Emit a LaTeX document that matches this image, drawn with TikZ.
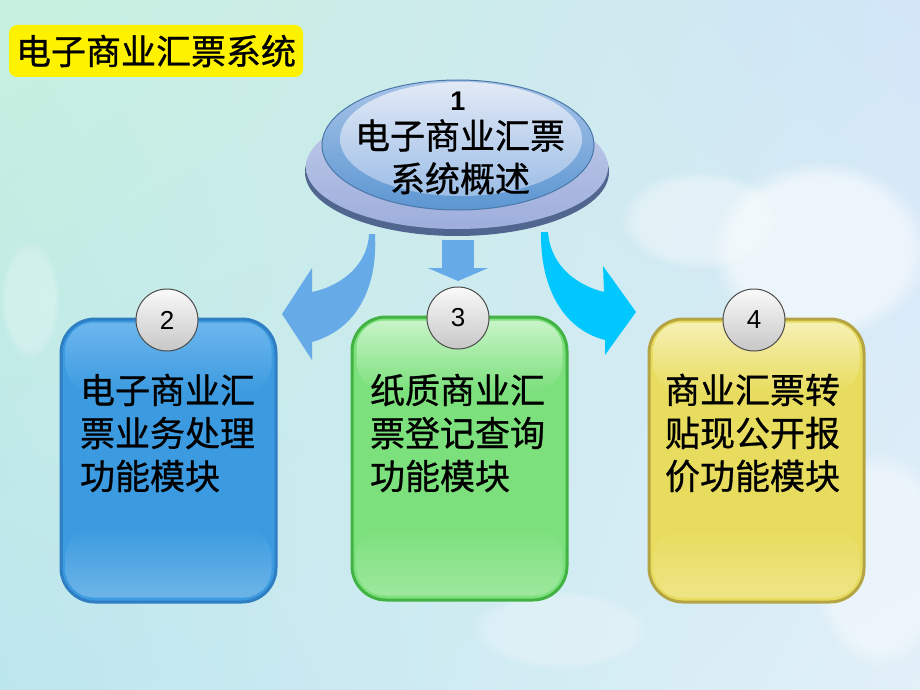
\documentclass[tikz,border=0pt]{standalone}
\usepackage{fontspec}
\setmainfont{Liberation Sans}
\newfontfamily\cjk{Noto Sans CJK SC}[FakeBold=0.8]
\usetikzlibrary{shapes.geometric,arrows.meta,fadings,shadings,calc}
\definecolor{bgA}{HTML}{C6F0DE}
\definecolor{bgB}{HTML}{D2E6F8}
\definecolor{bgC}{HTML}{BCE6EE}
\definecolor{bgD}{HTML}{E2F0F8}
\definecolor{arrL}{HTML}{66AAE8}
\definecolor{arrR}{HTML}{00C8FF}
\definecolor{blueM}{HTML}{3C9BE0}
\definecolor{blueL}{HTML}{6CB6EE}
\definecolor{blueB}{HTML}{2F7EC4}
\definecolor{greenM}{HTML}{7CE07C}
\definecolor{greenL}{HTML}{C8F4C8}
\definecolor{greenB}{HTML}{42B242}
\definecolor{yelM}{HTML}{E8DC5E}
\definecolor{yelL}{HTML}{F6F0B4}
\definecolor{yelB}{HTML}{B4A444}
\definecolor{discBase}{HTML}{9EAEDC}
\definecolor{discBaseL}{HTML}{C2CCEA}
\definecolor{discRim}{HTML}{51668F}
\definecolor{discRing}{HTML}{5C96D2}
\definecolor{discRingL}{HTML}{A8C4E8}
\definecolor{discIn}{HTML}{E2EAF6}
\definecolor{discInB}{HTML}{9DBDE6}
\tikzset{
  boxbase/.style={rounded corners=34pt, line width=3pt, minimum width=215pt, minimum height=283pt, inner sep=0pt},
  badge/.style={circle, minimum size=62pt, inner sep=0pt, draw=black!70, line width=1pt,
    top color=white!96!gray, bottom color=black!22, font=\fontsize{26}{26}\selectfont},
  cjktext/.style={inner sep=0pt, align=left, font=\cjk\fontsize{35}{43}\selectfont},
  cjkc/.style={inner sep=0pt, align=center, font=\cjk\fontsize{35}{43}\selectfont},
  cloud/.style={fill=white, path fading=circle with fuzzy edge 20 percent, opacity=#1}
}
\begin{document}
\begin{tikzpicture}[x=1pt,y=-1pt]
\useasboundingbox (0,0) rectangle (920,690);
% background
\shade[upper left=bgA, upper right=bgB, lower left=bgC, lower right=bgD] (0,0) rectangle (920,690);
\fill[cloud=0.55] (820,250) ellipse (110 and 90);
\fill[cloud=0.35] (700,220) ellipse (80 and 50);
\fill[cloud=0.4] (880,560) ellipse (70 and 110);
\fill[cloud=0.25] (560,630) ellipse (90 and 40);
\fill[cloud=0.25] (30,300) ellipse (30 and 60);

% title
\node[fill=yellow, rounded corners=8pt, minimum width=294pt, minimum height=52pt, inner sep=0pt] (title) at (156,51) {};
\node[cjkc] (titletext) at (title.center) {电子商业汇票系统};

% top disc
\fill[discRim] (457,172) ellipse (152 and 64);
\shade[top color=discBaseL, bottom color=discBase] (457,167) ellipse (151 and 62);
\node[ellipse, minimum width=272pt, minimum height=130pt, inner sep=0pt, draw=discRing!80!black, line width=1pt,
  top color=discRingL, bottom color=discRing] (disc) at (458,145) {};
\shade[top color=discIn, bottom color=discInB] (461,139) ellipse (121 and 57);
\node[inner sep=0pt, font=\bfseries\fontsize{27}{27}\selectfont] (n1) at (458,101) {1};
\node[cjkc] (disctext) at (460,157) {电子商业汇票\\系统概述};

% boxes
\node[boxbase, draw=blueB, fill=blueM] (b2) at (168.5,460.5) {};
\node[boxbase, draw=greenB, fill=greenM] (b3) at (459.5,458.5) {};
\node[boxbase, draw=yelB, fill=yelM] (b4) at (756.5,460.5) {};
\foreach \b/\m/\l in {b2/blueM/blueL, b3/greenM/greenL, b4/yelM/yelL}{
  \shade[top color=\l, bottom color=\m, rounded corners=28pt] ($(\b.north west)+(6,5)$) rectangle ($(\b.north east)+(-6,75)$);
  \shade[top color=\m, bottom color=\m!75!white, rounded corners=28pt] ($(\b.south west)+(6,-75)$) rectangle ($(\b.south east)+(-6,-6)$);
}

\node[cjktext] (t2) at (167.5,433) {电子商业汇\\票业务处理\\功能模块};
\node[cjktext] (t3) at (457.5,433) {纸质商业汇\\票登记查询\\功能模块};
\node[cjktext] (t4) at (752.5,433) {商业汇票转\\贴现公开报\\价功能模块};

% badges
\node[badge] (c2) at (167,320) {2};
\node[badge] (c3) at (458,318) {3};
\node[badge] (c4) at (754,320) {4};

% arrows
\coordinate (m1) at (458,240);
\coordinate (m2) at (458,281);
\draw[line width=32pt, draw=arrL, -{Triangle[width=60pt,length=13pt]}] (m1) -- (m2);
\fill[arrL] (369,234) .. controls (368,262) and (345,285) .. (312,292) -- (312,268) -- (282,314) -- (312,360) -- (312,342) .. controls (355,330) and (378,290) .. (375,234) -- cycle;
\fill[arrR] (548,232) .. controls (550,262) and (572,284) .. (604,292) -- (603,266) -- (636,312) -- (605,355) -- (605,340) .. controls (565,330) and (540,290) .. (541,232) -- cycle;
\end{tikzpicture}
\end{document}
